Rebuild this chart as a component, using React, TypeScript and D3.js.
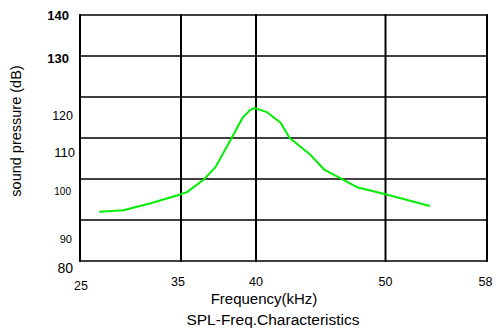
import React from "react";
import * as d3 from "d3";

// ---- data ----
const freqKHz = [26.9, 29.3, 32.0, 35.0, 35.4, 36.5, 37.3, 38.3, 39.1, 39.6, 39.9, 40.85, 41.9, 42.6, 44.2, 45.3, 46.5, 47.8, 50.0, 53.5];
const splDb = [92.0, 92.4, 94.1, 96.3, 96.8, 99.8, 102.9, 109.5, 114.9, 116.8, 117.3, 116.3, 113.7, 110.0, 105.9, 102.2, 100.2, 98.0, 96.3, 93.4];

const xTicks = [25, 35, 40, 50, 58];
const yTicks = [80, 90, 100, 110, 120, 130, 140];
const yTickLabels = ["80", "90", "100", "110", "120", "130", "140"];
const xTitle = "Frequency(kHz)";
const yTitle = "sound pressure (dB)";
const chartTitle = "SPL-Freq.Characteristics";

// ---- layout (not data) ----
const W = 493;
const H = 333;
const X_RANGE = [80, 181, 256, 385.5, 487];
const Y_RANGE: [number, number] = [261, 15];
const Y_LABEL_POS = [268, 239, 191, 152, 116, 58, 15];
const Y_LABEL_SIZE = [14, 11, 10, 13, 12.5, 13, 13];
const Y_LABEL_WEIGHT = [400, 400, 400, 400, 400, 700, 700];
const Y_LABEL_RIGHT = [73, 72, 71, 75, 73, 69, 69];
const X_LABEL_DX = [1, -3, 0, 0, 0];
const X_LABEL_ANCHOR = ["middle", "middle", "middle", "middle", "end"];
const X_LABEL_Y = [286, 282, 282, 282, 282];
const FONT = "'Liberation Sans', Arial, Helvetica, sans-serif";

export default function App() {
  const x = d3.scaleLinear().domain(xTicks).range(X_RANGE);
  const y = d3.scaleLinear().domain([yTicks[0], yTicks[yTicks.length - 1]]).range(Y_RANGE);

  const pts: [number, number][] = freqKHz.map((f, i) => [f, splDb[i]]);
  const line = d3
    .line<[number, number]>()
    .x((d) => x(d[0]))
    .y((d) => y(d[1]))
    .curve(d3.curveLinear);

  const x0 = x(xTicks[0]);
  const x1 = x(xTicks[xTicks.length - 1]);
  const y0 = y(yTicks[0]);
  const y1 = y(yTicks[yTicks.length - 1]);

  return (
    <svg
      width={W}
      height={H}
      viewBox={`0 0 ${W} ${H}`}
      style={{ position: "absolute", left: 0, top: 0, background: "#fff", overflow: "hidden" }}
      fontFamily={FONT}
    >
      <rect x={0} y={0} width={W} height={H} fill="#fff" />
      {/* horizontal grid */}
      {yTicks.map((t) => (
        <line key={"h" + t} x1={x0 - 1} x2={x1 + 1} y1={y(t)} y2={y(t)} stroke="#000" strokeWidth={1.7} />
      ))}
      {/* vertical grid */}
      {xTicks.map((t) => (
        <line key={"v" + t} x1={x(t)} x2={x(t)} y1={y1 - 0.8} y2={y0 + 0.8} stroke="#000" strokeWidth={2} />
      ))}
      {/* curve */}
      <path d={line(pts) || ""} fill="none" stroke="#00ee00" strokeWidth={2} strokeLinejoin="round" />
      {/* y tick labels */}
      {yTicks.map((t, i) => (
        <text
          key={"yl" + t}
          x={Y_LABEL_RIGHT[i]}
          y={Y_LABEL_POS[i]}
          textAnchor="end"
          dominantBaseline="central"
          fontSize={Y_LABEL_SIZE[i]}
          fontWeight={Y_LABEL_WEIGHT[i]}
          fill="#000"
        >
          {yTickLabels[i]}
        </text>
      ))}
      {/* x tick labels */}
      {xTicks.map((t, i) => (
        <text
          key={"xl" + t}
          x={i === xTicks.length - 1 ? W - 0.5 : x(t) + X_LABEL_DX[i]}
          y={X_LABEL_Y[i]}
          textAnchor={X_LABEL_ANCHOR[i]}
          dominantBaseline="central"
          fontSize={12.5}
          fill="#000"
        >
          {t}
        </text>
      ))}
      <text x={264} y={298} textAnchor="middle" dominantBaseline="central" fontSize={15} fill="#000">
        {xTitle}
      </text>
      <text x={273} y={319} textAnchor="middle" dominantBaseline="central" fontSize={15.5} fill="#000">
        {chartTitle}
      </text>
      <text
        transform={`translate(16,131) rotate(-90)`}
        textAnchor="middle"
        dominantBaseline="central"
        fontSize={14.5}
        fill="#000"
      >
        {yTitle}
      </text>
    </svg>
  );
}
